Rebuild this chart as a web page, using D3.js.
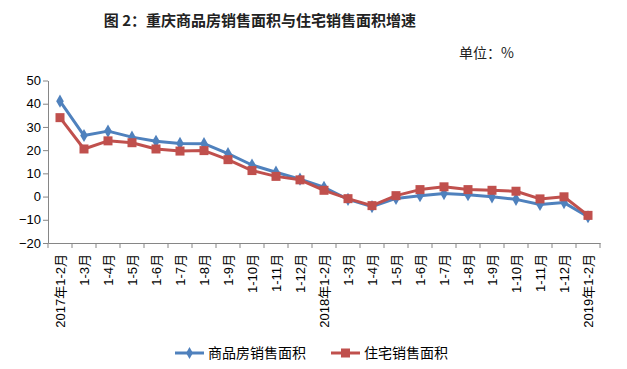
<!DOCTYPE html>
<html>
<head>
<meta charset="utf-8">
<script src="https://cdn.jsdelivr.net/npm/d3@7"></script>
<style>
  body { margin: 0; background: #fff; }
  svg { display: block; }
</style>
</head>
<body>
<div id="chart"></div>
<script>
/* 重庆商品房与住宅销售面积增速 line chart */

const months = ["2017年1-2月", "1-3月", "1-4月", "1-5月", "1-6月", "1-7月", "1-8月", "1-9月", "1-10月", "1-11月", "1-12月",
                "2018年1-2月", "1-3月", "1-4月", "1-5月", "1-6月", "1-7月", "1-8月", "1-9月", "1-10月", "1-11月", "1-12月",
                "2019年1-2月"];
const commercial = [41.1, 26.3, 28.2, 25.6, 23.8, 22.9, 22.8, 18.5, 13.6, 10.5, 7.5,
                    4.0, -1.2, -4.3, -0.8, 0.4, 1.3, 0.8, -0.1, -1.2, -3.4, -2.6, -8.7];
const housing = [34.0, 20.5, 24.0, 23.2, 20.5, 19.6, 19.8, 15.9, 11.2, 8.7, 7.2,
                 2.7, -0.9, -3.9, 0.4, 3.0, 4.2, 3.0, 2.7, 2.3, -1.0, -0.1, -8.1];
const yTicks = [-20, -10, 0, 10, 20, 30, 40, 50];
const seriesNames = ["商品房销售面积", "住宅销售面积"];

const width = 627, height = 369,
      margin = ({ top: 80, right: 27, bottom: 126, left: 48 });

const svg = d3.select("#chart")
    .append("svg")
    .attr("width", width)
    .attr("height", height);

let x = d3.scaleBand()
    .domain(d3.range(months.length))
    .range([margin.left, width - margin.right]);

let y = d3.scaleLinear()
    .domain([-20, 50])
    .range([height - margin.bottom, margin.top + 0.5]);

// title + unit
svg.append("text")
    .attr("x", 260).attr("y", 26)
    .attr("text-anchor", "middle")
    .style("font-family", "'Noto Sans CJK SC'")
    .style("font-weight", "bold")
    .style("font-size", "15px")
    .style("fill", "#222")
    .text("图 2：重庆商品房销售面积与住宅销售面积增速");

svg.append("text")
    .attr("x", 514).attr("y", 58)
    .attr("text-anchor", "end")
    .style("font-family", "'Noto Sans CJK SC'")
    .style("font-size", "14px")
    .style("fill", "#222")
    .text("单位：%");

// y axis
const yAxis = svg.append("g")
    .attr("transform", `translate(${margin.left},0)`)
    .call(d3.axisLeft(y).tickValues(yTicks).tickSize(5).tickSizeOuter(0));
yAxis.select(".domain").attr("stroke", "#868686");
yAxis.selectAll(".tick line").attr("stroke", "#868686");
yAxis.selectAll(".tick text")
    .attr("x", -7)
    .style("font-family", "'Liberation Sans', Arial")
    .style("font-size", "13px")
    .style("fill", "#000");

// x axis at the bottom (-20)
const xAxis = svg.append("g")
    .attr("transform", `translate(0,${y(-20)})`)
    .call(d3.axisBottom(x).tickFormat(i => months[i]).tickSize(0).tickSizeOuter(0));
xAxis.select(".domain").attr("stroke", "#868686");
xAxis.selectAll(".tick text")
    .attr("transform", "rotate(-90)")
    .attr("x", -11)
    .attr("y", 0)
    .attr("dy", "0.35em")
    .attr("text-anchor", "end")
    .style("font-family", "'Liberation Sans', 'Noto Sans CJK SC'")
    .style("font-size", "13px")
    .style("fill", "#000");

// boundary ticks between categories
svg.append("g")
    .selectAll("line")
    .data(d3.range(months.length + 1))
    .join("line")
    .attr("x1", i => margin.left + i * x.step())
    .attr("x2", i => margin.left + i * x.step())
    .attr("y1", y(-20))
    .attr("y2", y(-20) + 5)
    .attr("stroke", "#868686");

const cx = i => x(i) + x.bandwidth() / 2;
const line = d3.line().x((d, i) => cx(i)).y(d => y(d));

svg.append("path")
    .datum(commercial)
    .attr("fill", "none")
    .attr("stroke", "#4F81BD")
    .attr("stroke-width", 3)
    .attr("stroke-linejoin", "round")
    .attr("d", line);

svg.append("g")
    .selectAll("path")
    .data(commercial)
    .join("path")
    .attr("d", d3.symbol(d3.symbolDiamond, 50))
    .attr("transform", (d, i) => `translate(${cx(i)},${y(d)})`)
    .attr("fill", "#4F81BD");

svg.append("path")
    .datum(housing)
    .attr("fill", "none")
    .attr("stroke", "#C0504D")
    .attr("stroke-width", 3)
    .attr("stroke-linejoin", "round")
    .attr("d", line);

svg.append("g")
    .selectAll("rect")
    .data(housing)
    .join("rect")
    .attr("x", (d, i) => cx(i) - 4.5)
    .attr("y", d => y(d) - 4.5)
    .attr("width", 9)
    .attr("height", 9)
    .attr("fill", "#C0504D");

// legend
const legend = [
    { name: seriesNames[0], color: "#4F81BD", x0: 175, marker: "diamond" },
    { name: seriesNames[1], color: "#C0504D", x0: 331, marker: "square" }
];
const lg = svg.append("g").attr("transform", "translate(0,353)");
legend.forEach(l => {
    lg.append("line")
        .attr("x1", l.x0).attr("x2", l.x0 + 29)
        .attr("stroke", l.color).attr("stroke-width", 3);
    if (l.marker === "diamond") {
        lg.append("path")
            .attr("d", d3.symbol(d3.symbolDiamond, 40))
            .attr("transform", `translate(${l.x0 + 14.5},0)`)
            .attr("fill", l.color);
    } else {
        lg.append("rect")
            .attr("x", l.x0 + 10).attr("y", -4.5)
            .attr("width", 9).attr("height", 9)
            .attr("fill", l.color);
    }
    lg.append("text")
        .attr("x", l.x0 + 33)
        .attr("dy", "0.35em")
        .style("font-family", "'Noto Sans CJK SC'")
        .style("font-size", "14px")
        .style("fill", "#000")
        .text(l.name);
});
</script>
</body>
</html>
